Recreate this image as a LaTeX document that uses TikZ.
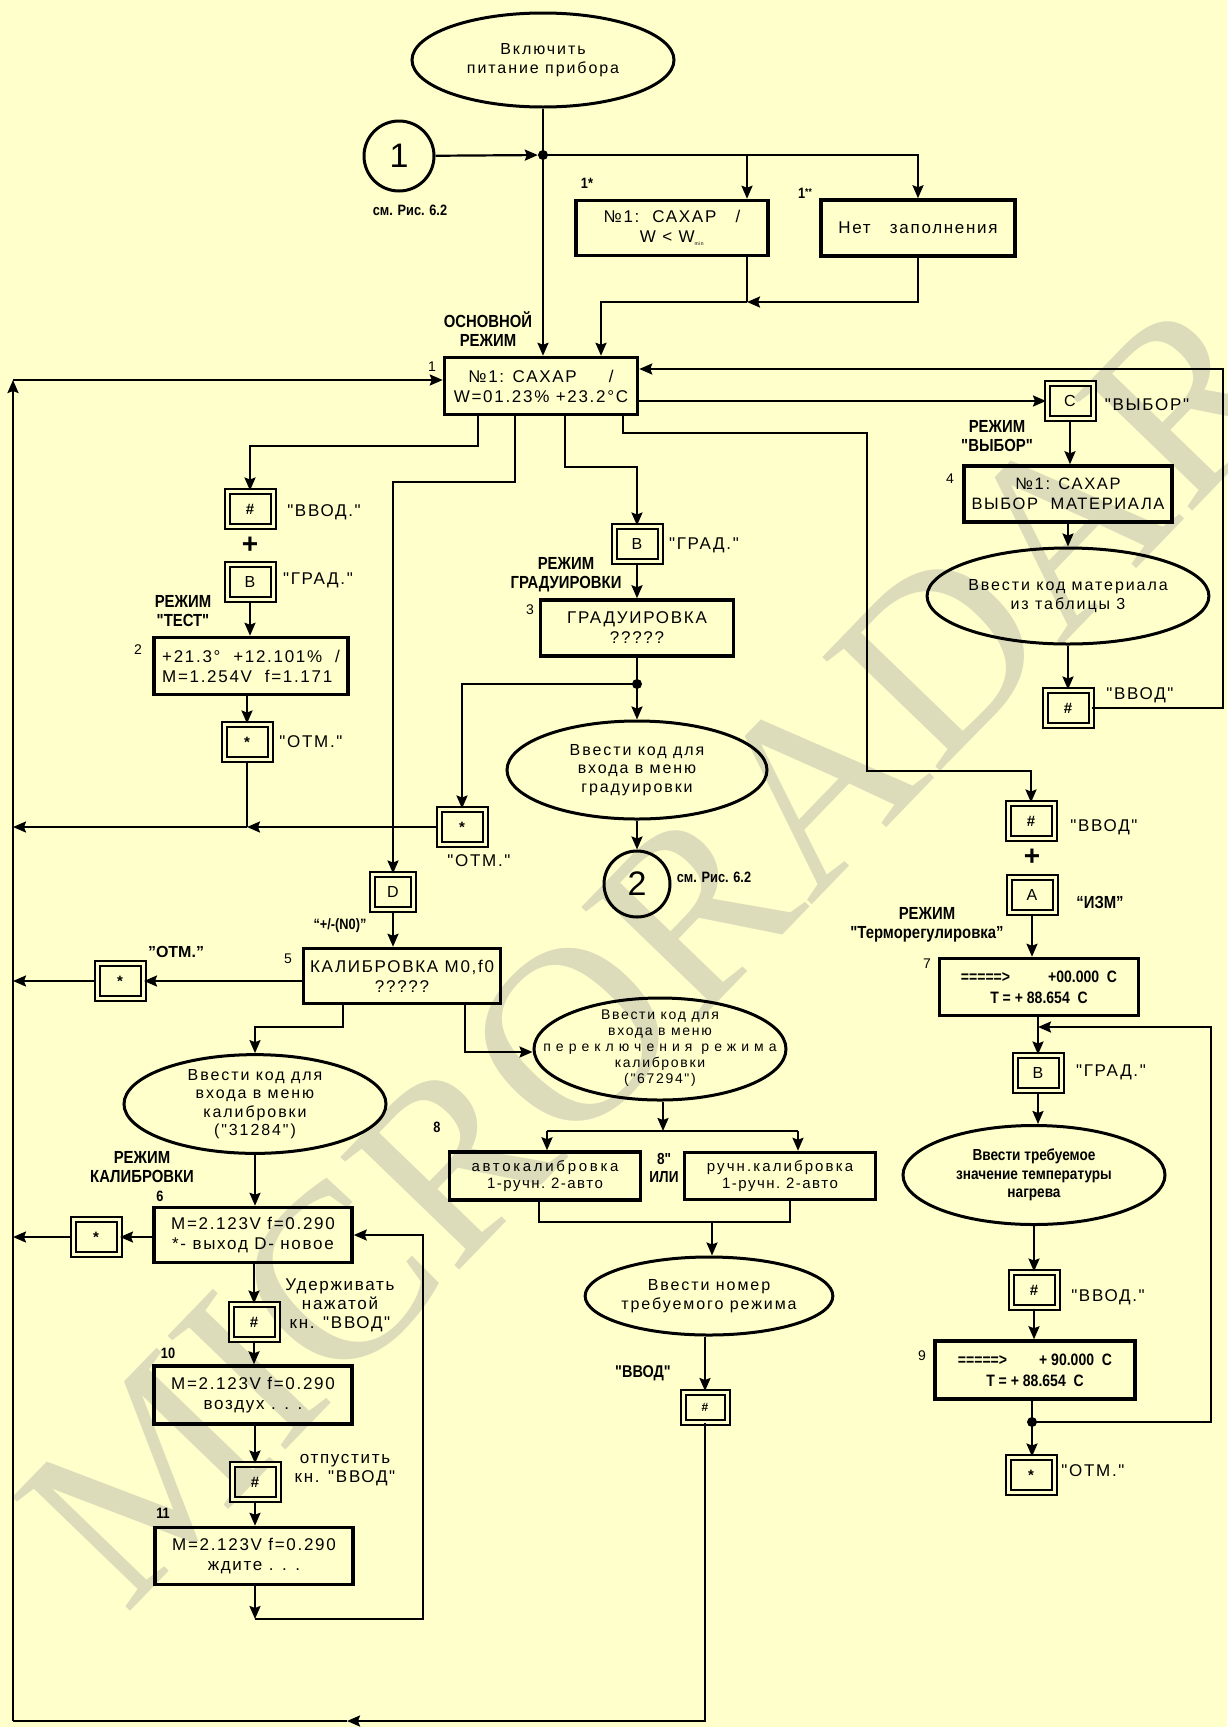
\documentclass[tikz,border=0pt]{standalone}
\usepackage{fontspec}
\setmainfont{Liberation Sans}
\newfontfamily\bx[LetterSpace=10]{Liberation Sans}
\newfontfamily\ov[LetterSpace=12]{Liberation Sans}
\newfontfamily\nb[FakeStretch=0.85]{Liberation Sans}
\newfontfamily\wm{Liberation Serif}
\usetikzlibrary{arrows.meta,shapes.geometric,calc}
\definecolor{bgc}{HTML}{FFFFCC}
\definecolor{wmc}{RGB}{220,220,186}
\newcommand{\zlines}[1]{\makebox[0pt]{\smash{\raisebox{-3pt}{\begin{tabular}{@{}c@{}}#1\end{tabular}}}}}
\tikzset{
 conn/.style={line width=2.2pt},
 arr/.style={conn,-{Stealth[length=13pt,width=11pt,inset=2pt]}},
 dbox/.style={draw,line width=3.5pt,inner sep=0pt,align=center,font=\bx\fontsize{17}{20}\selectfont},
 oval/.style={draw,ellipse,line width=3pt,inner sep=0pt,align=center,font=\ov\fontsize{16}{18.5}\selectfont},
 kbox/.style={draw,double=bgc,line width=2pt,double distance=3pt,minimum width=46pt,minimum height=35pt,inner sep=0pt,font=\bfseries\fontsize{15}{18}\selectfont},
 klbl/.style={font=\bx\fontsize{17}{19}\selectfont,inner sep=0pt,align=center},
 mlbl/.style={font=\nb\bfseries\fontsize{17.5}{19}\selectfont,align=center,inner sep=0pt},
 numl/.style={font=\fontsize{14}{16}\selectfont,inner sep=0pt},
 bnum/.style={font=\nb\bfseries\fontsize{15}{17}\selectfont,inner sep=0pt},
 jdot/.style={circle,fill,inner sep=0pt,minimum size=10pt},
 circ1/.style={draw,circle,line width=3pt,inner sep=0pt,minimum size=70pt,font=\fontsize{34}{36}\selectfont},
 plus/.style={font=\bfseries\fontsize{28}{28}\selectfont,inner sep=0pt},
}
\begin{document}
\begin{tikzpicture}[x=1pt,y=-1pt]
\fill[bgc] (0,0) rectangle (1227,1727);
\useasboundingbox (0,0) rectangle (1227,1727);
% watermark
\node[font=\wm\fontsize{250}{250}\selectfont,text=wmc,rotate=46,inner sep=0pt] (wmk) at (655,950) {MICRORADAR};

% ---------- top ----------
\node[oval,minimum width=262pt,minimum height=94pt] (S) at (543,60) {Включить\\питание прибора};
\node[circ1] (C1) at (399,156) {1};
\node[mlbl,font=\nb\bfseries\fontsize{15}{17}\selectfont] (c1l) at (410,210) {см. Рис. 6.2};
\node[jdot] (J1) at (543,155) {};
\node[dbox,minimum width=192pt,minimum height=55pt] (B1a) at (672,228) {№1:\ \ САХАР\ \ \ /\\W < W\textsubscript{\tiny min}};
\node[dbox,minimum width=194pt,minimum height=56pt] (B1b) at (918,228) {Нет\ \ \ заполнения};
\node[bnum] (n1a) at (587,183) {1*};
\node[bnum] (n1b) at (805,193) {1\raisebox{3pt}{\fontsize{10}{10}\selectfont **}};
\node[dbox,minimum width=193pt,minimum height=57pt] (M) at (541,386) {№1: САХАР\ \ \ \ \ /\\W=01.23\% +23.2°C};
\node[numl] (n1) at (432,367) {1};
\node[mlbl] (l0) at (488,329) {ОСНОВНОЙ\\РЕЖИМ};

\draw[arr] (S.south) -- (S.south |- M.north);
\draw[arr] (C1) -- (J1);
\coordinate (t1) at (747,155);
\draw[arr] (J1.center) -| (B1b.north);
\draw[arr] (t1) -- (t1 |- B1a.north);
\coordinate (m1) at (747,302);
\coordinate (m2) at (601,302);
\draw[conn] (m1 |- B1a.south) -- (m1);
\draw[arr] (B1b.south) |- (m1);
\draw[arr] (m1) -- (m2) -- (m2 |- M.north);

% left bus
\coordinate (Lt) at (13,380);
\coordinate (Lb) at (13,1721);
\draw[arr] (Lb) -- (Lt);
\draw[arr] (Lt) -- (Lt -| M.west);

% ---------- right: ВЫБОР ----------
\node[kbox,font=\fontsize{16}{18}\selectfont] (Ck) at (1070,401) {C};
\node[klbl] (lck) at (1147,405) {"ВЫБОР"};
\draw[arr] (M.east |- Ck) -- (Ck.west);
\node[mlbl] (lvyb) at (997,436) {РЕЖИМ\\"ВЫБОР"};
\node[dbox,minimum width=208pt,minimum height=56pt,font=\bx\fontsize{16.5}{20}\selectfont] (B4) at (1068,494) {№1: САХАР\\ВЫБОР\ \ МАТЕРИАЛА};
\node[numl] (n4) at (950,479) {4};
\draw[arr] (Ck.south) -- (Ck.south |- B4.north);
\node[oval,minimum width=262pt,minimum height=96pt] (E4) at (1068,596) {Ввести код материала\\из таблицы 3};
\draw[arr] (B4.south) -- (B4.south |- E4.north);
\node[kbox] (R4k) at (1068,708) {\#};
\node[klbl] (lr4) at (1140,695) {"ВВОД"};
\draw[arr] (E4.south) -- (R4k.north);
\coordinate (r1) at (1223,708);
\coordinate (r2) at (1223,369);
\draw[arr] (R4k.east) -- (r1) -- (r2) -- (r2 -| M.east);

% ---------- test column ----------
\coordinate (a1) at (478,446);
\node[kbox] (Tk1) at (250,509) {\#};
\draw[arr] (a1 |- M.south) -- (a1) -| (Tk1.north);
\node[klbl] (lt1) at (324,512) {"ВВОД."};
\node[plus] (plus1) at (250,545) {+};
\node[kbox,font=\fontsize{16}{18}\selectfont] (Tk2) at (250,582) {B};
\node[klbl] (lt2) at (318,580) {"ГРАД."};
\node[mlbl] (ltest) at (183,611) {РЕЖИМ\\"ТЕСТ"};
\node[dbox,align=left,minimum width=194pt,minimum height=57pt] (B2) at (251,666) {+21.3°\ \ +12.101\%\ \ /\\M=1.254V\ \ f=1.171};
\node[numl] (n2) at (138,650) {2};
\draw[arr] (Tk2.south) -- (Tk2.south |- B2.north);
\node[kbox] (Tk3) at (247,742) {*};
\draw[arr] (B2.south -| Tk3) -- (Tk3.north);
\node[klbl] (lt3) at (311,742) {"ОТМ."};
\coordinate (a2) at (247,827);
\draw[conn] (Tk3.south) -- (a2);
\draw[arr] (a2) -- (a2 -| Lt);

% ---------- grad column ----------
\coordinate (g1) at (565,467);
\node[kbox,font=\fontsize{16}{18}\selectfont] (Gk1) at (637,544) {B};
\draw[arr] (g1 |- M.south) -- (g1) -| (Gk1.north);
\node[klbl] (lg1) at (704,545) {"ГРАД."};
\node[mlbl] (lgrad) at (566,575) {РЕЖИМ\\ГРАДУИРОВКИ};
\node[dbox,minimum width=193pt,minimum height=56pt] (B3) at (637,628) {ГРАДУИРОВКА\\?????};
\node[numl] (n3) at (530,610) {3};
\draw[arr] (Gk1.south) -- (B3.north);
\node[jdot] (D3) at (637,684) {};
\draw[conn] (B3.south) -- (D3.center);
\node[oval,minimum width=260pt,minimum height=98pt] (E3) at (637,770) {Ввести код для\\входа в меню\\градуировки};
\draw[arr] (D3.center) -- (E3.north);
\node[kbox] (Gk2) at (462,827) {*};
\draw[arr] (D3.center) -| (Gk2.north);
\node[klbl] (lg2) at (479,861) {"ОТМ."};
\draw[arr] (Gk2.west) -- (Gk2.west -| Tk3);
\node[circ1,minimum size=66pt] (C2) at (637,884) {2};
\draw[arr] (E3.south) -- (C2.north);
\node[mlbl,font=\nb\bfseries\fontsize{15}{17}\selectfont] (c2l) at (714,877) {см. Рис. 6.2};

% ---------- calibration column ----------
\coordinate (d1) at (515,482);
\node[kbox,minimum width=41pt,font=\fontsize{16}{18}\selectfont] (Dk) at (393,892) {D};
\draw[arr] (d1 |- M.south) -- (d1) -| (Dk.north);
\node[mlbl,font=\nb\bfseries\fontsize{15}{17}\selectfont] (ln0) at (340,926) {“+/-(N0)”};
\node[dbox,minimum width=197pt,minimum height=55pt] (B5) at (402,976) {КАЛИБРОВКА M0,f0\\?????};
\draw[arr] (Dk.south) -- (Dk.south |- B5.north);
\node[numl] (n5) at (288,959) {5};
\node[kbox] (Ck5) at (120,981) {*};
\draw[arr] (B5.west |- Ck5) -- (Ck5.east);
\draw[arr] (Ck5.west) -- (Ck5.west -| Lt);
\node[klbl,font=\bfseries\fontsize{16}{18}\selectfont] (lc5) at (176,952) {"ОТМ."};
\coordinate (k1) at (343,1027);
\coordinate (k2) at (255,1027);
\node[oval,minimum width=262pt,minimum height=98pt] (E5) at (255,1104) {Ввести код для\\входа в меню\\калибровки\\("31284")};
\draw[arr] (k1 |- B5.south) -- (k1) -- (k2) -- (k2 |- E5.north);
\node[mlbl] (lkal) at (142,1167) {РЕЖИМ\\КАЛИБРОВКИ};
\node[bnum] (n6) at (160,1196) {6};
\node[dbox,minimum width=198pt,minimum height=55pt] (B6) at (253,1235) {M=2.123V f=0.290\\*- выход D- новое};
\draw[arr] (E5.south) -- (E5.south |- B6.north);
\node[kbox] (Ck6) at (96,1237) {*};
\draw[arr] (B6.west |- Ck6) -- (Ck6.east);
\draw[arr] (Ck6.west) -- (Ck6.west -| Lt);
\node[kbox] (Hk1) at (254,1322) {\#};
\draw[arr] (B6.south -| Hk1) -- (Hk1.north);
\node[klbl] (lh1) at (340,1305) {Удерживать\\нажатой\\кн. "ВВОД"};
\node[bnum] (n10) at (168,1353) {10};
\node[dbox,minimum width=198pt,minimum height=58pt] (B10) at (253,1395) {M=2.123V f=0.290\\воздух . . .};
\draw[arr] (Hk1.south) -- (Hk1.south |- B10.north);
\node[kbox] (Hk2) at (255,1482) {\#};
\draw[arr] (B10.south -| Hk2) -- (Hk2.north);
\node[klbl] (lh2) at (345,1470) {отпустить\\кн. "ВВОД"};
\node[bnum] (n11) at (163,1513) {11};
\node[dbox,minimum width=198pt,minimum height=57pt] (B11) at (254,1556) {M=2.123V f=0.290\\ждите . . .};
\draw[arr] (Hk2.south) -- (Hk2.south |- B11.north);
\coordinate (p1) at (255,1619);
\coordinate (p2) at (423,1619);
\draw[arr] (B11.south -| p1) -- (p1);
\draw[arr] (p1) -- (p2) |- (B6.east);

% ---------- mode switch ----------
\coordinate (e1) at (465,1052);
\node[oval,minimum width=252pt,minimum height=102pt,font=\ov\fontsize{14}{16}\selectfont] (E8) at (660,1049) {\zlines{Ввести код для\\входа в меню\\\addfontfeature{LetterSpace=36}переключения режима\\калибровки\\("67294")}};
\draw[arr] (e1 |- B5.south) -- (e1) -- (e1 -| E8.west);
\coordinate (f0) at (663,1131);
\coordinate (fl) at (547,1131);
\coordinate (fr) at (798,1131);
\draw[arr] (E8.south -| f0) -- (f0);
\node[dbox,font=\bx\fontsize{15}{17}\selectfont,minimum width=191pt,minimum height=48pt] (B8a) at (545,1176) {{\addfontfeature{LetterSpace=18}автокалибровка}\\1-ручн.\ 2-авто};
\node[dbox,font=\bx\fontsize{15}{17}\selectfont,minimum width=191pt,minimum height=47pt] (B8b) at (780,1176) {{\addfontfeature{LetterSpace=14}ручн.калибровка}\\1-ручн.\ 2-авто};
\draw[conn] (fl) -- (fr);
\draw[arr] (fl) -- (fl |- B8a.north);
\draw[arr] (fr) -- (fr |- B8b.north);
\node[bnum] (n8) at (437,1127) {8};
\node[mlbl,font=\nb\bfseries\fontsize{16}{18}\selectfont] (lili) at (664,1168) {8"\\ИЛИ};
\coordinate (h1) at (539,1222);
\coordinate (h2) at (790,1222);
\coordinate (h3) at (712,1222);
\draw[conn] (h1 |- B8a.south) -- (h1) -- (h2) -- (h2 |- B8b.south);
\node[oval,minimum width=244pt,minimum height=78pt] (E9) at (709,1296) {Ввести номер\\требуемого режима};
\draw[arr] (h3) -- (h3 |- E9.north);
\node[kbox,minimum width=44pt,minimum height=30pt,font=\bfseries\fontsize{12}{14}\selectfont] (Ek) at (705,1407) {\#};
\draw[arr] (E9.south -| Ek) -- (Ek.north);
\node[mlbl,font=\nb\bfseries\fontsize{17}{18}\selectfont] (lek) at (643,1373) {"ВВОД"};
\coordinate (q1) at (705,1721);
\coordinate (q2) at (347,1721);
\draw[arr] (Ek.south) -- (q1) -- (q2);
\draw[conn] (q2) -- (Lb);

% ---------- thermoregulation ----------
\coordinate (w1) at (623,433);
\coordinate (w2) at (867,433);
\coordinate (w3) at (867,771);
\node[kbox] (Rk1) at (1031,821) {\#};
\draw[arr] (w1 |- M.south) -- (w1) -- (w2) -- (w3) -| (Rk1.north);
\node[klbl] (lr1) at (1104,827) {"ВВОД"};
\node[plus] (plus2) at (1032,857) {+};
\node[kbox,font=\fontsize{16}{18}\selectfont] (Rk2) at (1032,895) {A};
\node[mlbl] (lizm) at (1100,902) {“ИЗМ”};
\node[mlbl] (lterm) at (927,925) {РЕЖИМ\\"Терморегулировка”};
\node[dbox,font=\nb\bfseries\fontsize{16.5}{21}\selectfont,minimum width=199pt,minimum height=57pt] (B7) at (1039,987) {=====>\hspace{38pt}+00.000\ \ C\\T = + 88.654\ \ C};
\draw[arr] (Rk2.south) -- (Rk2.south |- B7.north);
\node[numl] (n7) at (927,964) {7};
\node[kbox,font=\fontsize{16}{18}\selectfont] (Rk3) at (1038,1073) {B};
\draw[arr] (B7.south -| Rk3) -- (Rk3.north);
\node[klbl] (lr3) at (1111,1072) {"ГРАД."};
\node[oval,font=\nb\bfseries\fontsize{16}{18.5}\selectfont,minimum width=262pt,minimum height=99pt] (E7) at (1034,1175) {Ввести требуемое\\значение температуры\\нагрева};
\draw[arr] (Rk3.south) -- (Rk3.south |- E7.north);
\node[kbox] (Rk4) at (1034,1290) {\#};
\draw[arr] (E7.south) -- (Rk4.north);
\node[klbl] (lr4b) at (1108,1297) {"ВВОД."};
\node[dbox,font=\nb\bfseries\fontsize{16.5}{21}\selectfont,minimum width=200pt,minimum height=58pt] (B9) at (1035,1370) {=====>\hspace{32pt}+ 90.000\ \ C\\T = + 88.654\ \ C};
\node[numl] (n9) at (922,1356) {9};
\draw[arr] (Rk4.south) -- (Rk4.south |- B9.north);
\node[jdot] (D9) at (1032,1422) {};
\draw[conn] (B9.south -| D9) -- (D9.center);
\node[kbox] (Rk5) at (1031,1475) {*};
\draw[arr] (D9.center) -- (D9.center |- Rk5.north);
\node[klbl] (lr5) at (1093,1471) {"ОТМ."};
\coordinate (v1) at (1211,1422);
\coordinate (v2) at (1211,1027);
\coordinate (v3) at (1038,1027);
\draw[arr] (D9.center) -- (v1) -- (v2) -- (v3);
\end{tikzpicture}
\end{document}
